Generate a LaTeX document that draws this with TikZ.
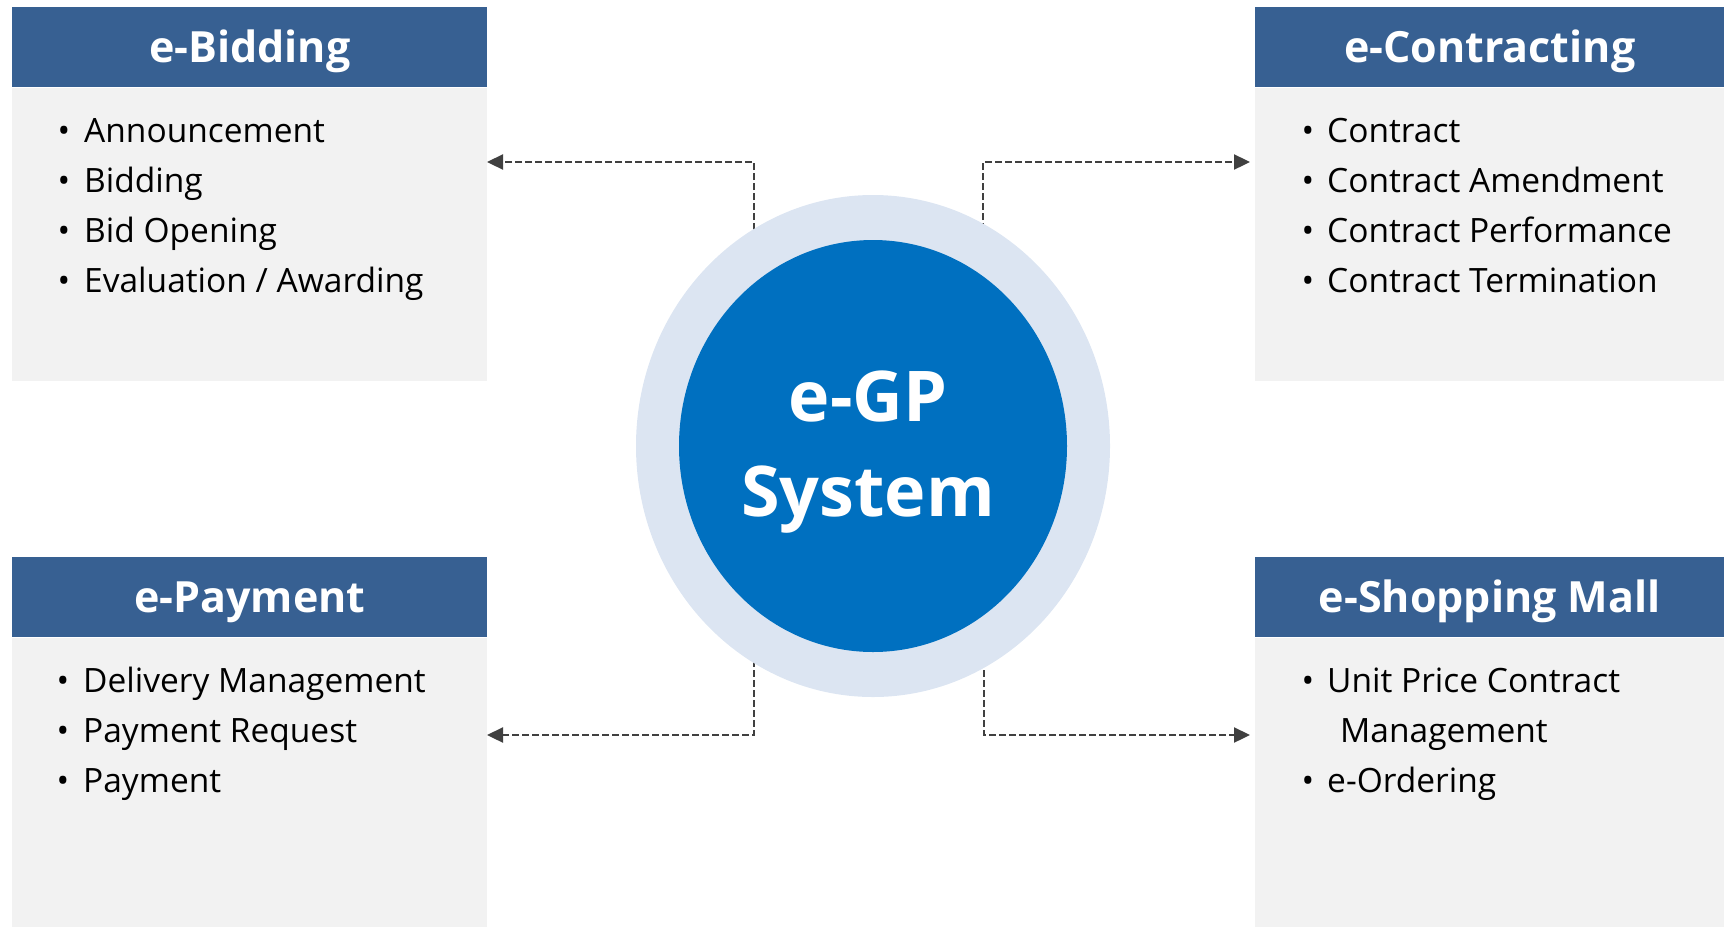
\documentclass[tikz,border=0pt]{standalone}
\usepackage{fontspec}
\setmainfont{Open Sans}
\usetikzlibrary{arrows.meta,shapes.geometric}
\definecolor{hdr}{RGB}{55,96,146}
\definecolor{bodyg}{RGB}{242,242,242}
\definecolor{core}{RGB}{0,112,192}
\definecolor{ring}{RGB}{220,229,242}
\definecolor{dashc}{RGB}{64,64,64}
\begin{document}
\begin{tikzpicture}[x=1pt,y=-1pt,
  hdrbox/.style={rectangle, fill=hdr, inner sep=0pt, anchor=north west,
    minimum height=80pt, text=white, font=\fontsize{43}{50}\selectfont\bfseries,
    text height=30pt, text depth=0pt},
  bodybox/.style={rectangle, fill=bodyg, inner sep=0pt, anchor=north west},
  itm/.style={anchor=base west, inner sep=0pt, font=\fontsize{33.5}{40}\selectfont},
  bul/.style={anchor=base, inner sep=0pt, font=\fontsize{33.5}{40}\selectfont},
  conn/.style={draw=dashc, line width=2.3pt, dash pattern=on 7pt off 3pt,
    -{Triangle[length=16pt,width=15pt]}},
]
\useasboundingbox (0,0) rectangle (1724,927);

% boxes
\node[hdrbox, minimum width=475pt] (bidH) at (12,7) {e-Bidding};
\node[bodybox, minimum width=475pt, minimum height=293pt] (bidB) at (12,88) {};
\node[hdrbox, minimum width=469pt] (conH) at (1255,7) {e-Contracting};
\node[bodybox, minimum width=469pt, minimum height=293pt] (conB) at (1255,88) {};
\node[hdrbox, minimum width=475pt] (payH) at (12,557) {e-Payment};
\node[bodybox, minimum width=475pt, minimum height=289pt] (payB) at (12,638) {};
\node[hdrbox, minimum width=469pt] (shopH) at (1255,557) {e-Shopping Mall};
\node[bodybox, minimum width=469pt, minimum height=289pt] (shopB) at (1255,638) {};

% items e-Bidding
\node[bul] (bb1) at (64,142) {•}; \node[itm] (b1) at (84,142) {Announcement};
\node[bul] (bb2) at (64,192) {•}; \node[itm] (b2) at (84,192) {Bidding};
\node[bul] (bb3) at (64,242) {•}; \node[itm] (b3) at (84,242) {Bid Opening};
\node[bul] (bb4) at (64,292) {•}; \node[itm] (b4) at (84,292) {Evaluation / Awarding};
% items e-Contracting
\node[bul] (cb1) at (1308,142) {•}; \node[itm] (c1) at (1327,142) {Contract};
\node[bul] (cb2) at (1308,192) {•}; \node[itm] (c2) at (1327,192) {Contract Amendment};
\node[bul] (cb3) at (1308,242) {•}; \node[itm] (c3) at (1327,242) {Contract Performance};
\node[bul] (cb4) at (1308,292) {•}; \node[itm] (c4) at (1327,292) {Contract Termination};
% items e-Payment
\node[bul] (pb1) at (63,692) {•}; \node[itm] (p1) at (83,692) {Delivery Management};
\node[bul] (pb2) at (63,742) {•}; \node[itm] (p2) at (83,742) {Payment Request};
\node[bul] (pb3) at (63,792) {•}; \node[itm] (p3) at (83,792) {Payment};
% items e-Shopping Mall
\node[bul] (sb1) at (1308,692) {•}; \node[itm] (s1) at (1327,692) {Unit Price Contract};
\node[itm] (s1b) at (1340,742) {Management};
\node[bul] (sb3) at (1308,792) {•}; \node[itm] (s3) at (1327,792) {e-Ordering};

% connectors (drawn beneath the circle)
\coordinate (tlS) at (754,320);
\coordinate (trS) at (983,320);
\coordinate (blS) at (754,580);
\coordinate (brS) at (984,580);
\coordinate (tlE) at (487,162);
\coordinate (trE) at (1250,162);
\coordinate (blE) at (487,735);
\coordinate (brE) at (1250,735);
\draw[conn] (tlS) |- (tlE);
\draw[conn] (trS) |- (trE);
\draw[conn] (blS) |- (blE);
\draw[conn] (brS) |- (brE);

% centre
\node[ellipse, fill=ring, inner sep=0pt, minimum width=474pt, minimum height=502pt] (outer) at (873,446) {};
\node[ellipse, fill=core, inner sep=0pt, minimum width=388pt, minimum height=412pt] (inner) at (873,446) {};
\node[align=center, text=white, font=\fontsize{70}{95}\selectfont\bfseries, inner sep=0pt] (egp) at (868,452) {e-GP\\System};
\end{tikzpicture}
\end{document}
